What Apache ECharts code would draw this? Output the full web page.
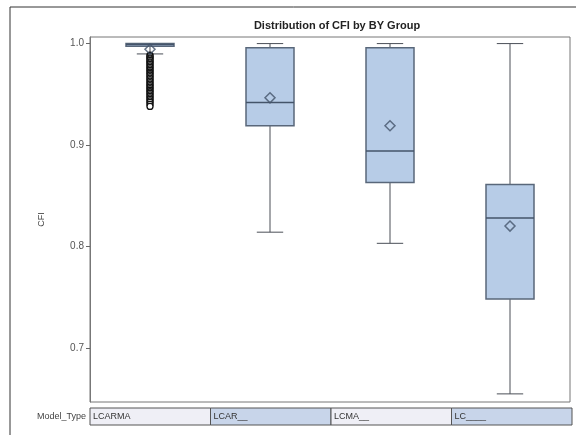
<!DOCTYPE html>
<html lang="en">
<head>
    <meta charset="UTF-8">
    <title>Distribution of CFI by BY Group</title>
    <script src="https://cdn.jsdelivr.net/npm/echarts@6.0.0/dist/echarts.min.js"></script>
    <style>
        body { margin: 0; background: #fff; }
        #chart { width: 576px; height: 435px; }
    </style>
</head>
<body>
<div id="chart"></div>
<script>
// groups along the x axis
const modelTypes = ['LCARMA', 'LCAR__', 'LCMA__', 'LC____'];
// [low whisker, Q1, median, Q3, high whisker]
const lowWhisker = [0.9898, 0.814, 0.803, 0.6545];
const q1 = [0.9975, 0.919, 0.863, 0.748];
const medians = [0.9990, 0.942, 0.894, 0.828];
const q3 = [1.0, 0.996, 0.996, 0.861];
const highWhisker = [1.0, 1.0, 1.0, 1.0];
const means = [0.9945, 0.9465, 0.919, 0.820];
// outliers of LCARMA (group 0)
const outliersLCARMA = [0.9885, 0.9875, 0.986, 0.985, 0.9835, 0.982, 0.981, 0.9795, 0.978, 0.9765,
    0.975, 0.9735, 0.972, 0.9705, 0.969, 0.9675, 0.966, 0.9645, 0.963, 0.9615, 0.960, 0.9585,
    0.957, 0.9555, 0.954, 0.9525, 0.951, 0.9495, 0.948, 0.9465, 0.945, 0.9435, 0.942, 0.940, 0.938];
const yTicks = [0.7, 0.8, 0.9, 1.0];
const stripColors = ['#efeff6', '#c8d5ea', '#efeff6', '#c8d5ea'];

const boxData = modelTypes.map((m, i) => [i, lowWhisker[i], q1[i], medians[i], q3[i], highWhisker[i]]);
const meanData = means.map((v, i) => [i, v]);
const outlierData = outliersLCARMA.map(v => [0, v]);

function renderBox(params, api) {
    const i = api.value(0);
    const band = api.size([1, 0])[0];
    const bw = band * 0.4;
    const cw = band * 0.22;
    const pLow = api.coord([i, api.value(1)]);
    const pQ1 = api.coord([i, api.value(2)]);
    const pMed = api.coord([i, api.value(3)]);
    const pQ3 = api.coord([i, api.value(4)]);
    const pHigh = api.coord([i, api.value(5)]);
    const x = pQ1[0];
    const lineStyle = { stroke: '#4a4f57', lineWidth: 1 };
    return {
        type: 'group',
        children: [
            { type: 'line', shape: { x1: x, y1: pLow[1], x2: x, y2: pQ1[1] }, style: lineStyle },
            { type: 'line', shape: { x1: x, y1: pQ3[1], x2: x, y2: pHigh[1] }, style: lineStyle },
            { type: 'line', shape: { x1: x - cw / 2, y1: pLow[1], x2: x + cw / 2, y2: pLow[1] }, style: lineStyle },
            { type: 'line', shape: { x1: x - cw / 2, y1: pHigh[1], x2: x + cw / 2, y2: pHigh[1] }, style: lineStyle },
            {
                type: 'rect',
                shape: { x: x - bw / 2, y: pQ3[1], width: bw, height: pQ1[1] - pQ3[1] },
                style: { fill: '#b7cce7', stroke: '#59677a', lineWidth: 1.5 }
            },
            {
                type: 'line',
                shape: { x1: x - bw / 2, y1: pMed[1], x2: x + bw / 2, y2: pMed[1] },
                style: { stroke: '#44546a', lineWidth: 1.5 }
            }
        ]
    };
}

function renderStrip(params, api) {
    const i = api.value(0);
    const band = api.size([1, 0])[0];
    const c = api.coord([i, 0]);
    const top = api.coord([i, 1])[1];
    return {
        type: 'group',
        children: [
            {
                type: 'rect',
                shape: { x: c[0] - band / 2, y: top, width: band, height: c[1] - top },
                style: { fill: stripColors[i], stroke: '#555', lineWidth: 1 }
            },
            {
                type: 'text',
                style: {
                    x: c[0] - band / 2 + 3, y: (top + c[1]) / 2,
                    text: modelTypes[i], fill: '#333',
                    font: '9px "Liberation Sans", Arial, sans-serif',
                    verticalAlign: 'middle', align: 'left'
                }
            }
        ]
    };
}

const chart = echarts.init(document.getElementById('chart'));
chart.setOption({
    animation: false,
    backgroundColor: '#fff',
    title: {
        text: 'Distribution of CFI by BY Group',
        left: 332, top: 15, textAlign: 'center',
        textStyle: { fontSize: 11, fontWeight: 'bold', color: '#222', fontFamily: '"Liberation Sans", Arial, sans-serif' }
    },
    grid: [
        { left: 90, right: 6, top: 37, bottom: 33, show: true, borderColor: '#777', borderWidth: 1 },
        { left: 90, right: 4, top: 408, height: 17 }
    ],
    xAxis: [
        {
            type: 'category', data: modelTypes, gridIndex: 0,
            axisLine: { show: false }, axisTick: { show: false }, axisLabel: { show: false }
        },
        {
            type: 'category', data: modelTypes, gridIndex: 1,
            axisLine: { show: false }, axisTick: { show: false }, axisLabel: { show: false }
        }
    ],
    yAxis: [
        {
            type: 'value', gridIndex: 0, min: 0.6465, max: 1.0065,
            name: 'CFI', nameLocation: 'middle', nameGap: 44, nameRotate: 90,
            nameTextStyle: { fontSize: 9, color: '#444', fontFamily: '"Liberation Sans", Arial, sans-serif' },
            splitLine: { show: false },
            axisLine: { show: true, lineStyle: { color: '#777' } },
            axisTick: { show: true, length: 4, lineStyle: { color: '#666' }, customValues: yTicks },
            axisLabel: {
                fontSize: 10, color: '#555', margin: 6,
                fontFamily: '"Liberation Sans", Arial, sans-serif',
                customValues: yTicks,
                formatter: v => v.toFixed(1)
            }
        },
        { type: 'value', gridIndex: 1, min: 0, max: 1, show: false }
    ],
    graphic: [
        { type: 'line', shape: { x1: 10, y1: 7, x2: 10, y2: 440 }, style: { stroke: '#333', lineWidth: 1 } },
        { type: 'line', shape: { x1: 10, y1: 7, x2: 580, y2: 7 }, style: { stroke: '#333', lineWidth: 1 } },
        {
            type: 'text', x: 86, y: 417,
            style: {
                text: 'Model_Type', fill: '#444', align: 'right', verticalAlign: 'middle',
                font: '9px "Liberation Sans", Arial, sans-serif'
            }
        }
    ],
    series: [
        {
            type: 'custom', renderItem: renderBox, data: boxData,
            xAxisIndex: 0, yAxisIndex: 0, encode: { x: 0, y: [1, 2, 3, 4, 5] }
        },
        {
            type: 'scatter', data: outlierData, xAxisIndex: 0, yAxisIndex: 0,
            symbol: 'circle', symbolSize: 6, z: 3,
            itemStyle: { color: '#ffffff', borderColor: '#111111', borderWidth: 1.3, opacity: 1 }
        },
        {
            type: 'scatter', data: meanData, xAxisIndex: 0, yAxisIndex: 0,
            symbol: 'diamond', symbolSize: 10, z: 4,
            itemStyle: { color: 'rgba(0,0,0,0)', borderColor: '#44546a', borderWidth: 1.5 }
        },
        {
            type: 'custom', renderItem: renderStrip, data: modelTypes.map((m, i) => [i]),
            xAxisIndex: 1, yAxisIndex: 1, encode: { x: 0 }
        }
    ]
});
</script>
</body>
</html>
